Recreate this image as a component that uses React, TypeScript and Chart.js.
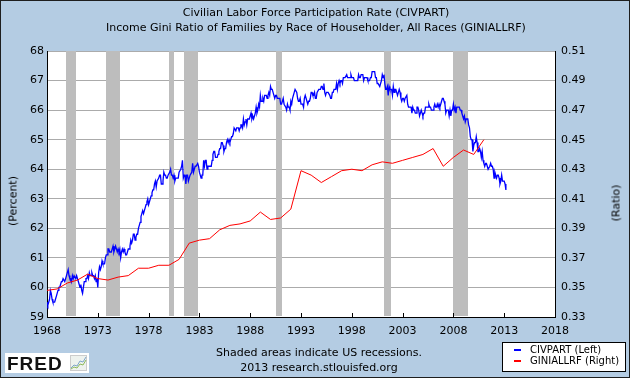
import React, { useEffect, useRef } from "react";
import { Chart, registerables } from "chart.js";

Chart.register(...registerables);

// ---------------- DATA ----------------
const civpartStartYear = 1968;
const civpart1968to1979 = [
  59.5, 59.4, 59.5, 59.6, 59.9, 59.8, 59.6, 59.5, 59.5, 59.5, 59.6, 59.7,
  59.8, 59.9, 60.0, 60.0, 60.1, 60.2, 60.2, 60.3, 60.3, 60.2, 60.3, 60.4,
  60.5, 60.6, 60.4, 60.3, 60.3, 60.2, 60.4, 60.3, 60.4, 60.4, 60.3, 60.4,
  60.3, 60.2, 60.1, 60.0, 60.1, 59.9, 59.8, 60.0, 60.2, 60.2, 60.3, 60.3,
  60.4, 60.3, 60.5, 60.4, 60.4, 60.5, 60.4, 60.4, 60.3, 60.4, 60.2, 60.3,
  60.0, 60.5, 60.7, 60.6, 60.7, 60.9, 60.8, 60.8, 60.8, 61.0, 61.1, 61.1,
  61.3, 61.3, 61.2, 61.2, 61.2, 61.3, 61.4, 61.2, 61.3, 61.4, 61.3, 61.2,
  61.3, 61.2, 61.3, 61.0, 61.2, 61.3, 61.2, 61.3, 61.2, 61.1, 61.1, 61.2,
  61.3, 61.3, 61.4, 61.6, 61.5, 61.6, 61.8, 61.8, 61.6, 61.7, 61.8, 61.8,
  62.0, 62.1, 62.2, 62.4, 62.5, 62.6, 62.5, 62.6, 62.7, 62.8, 62.9, 63.0,
  62.8, 62.9, 63.0, 63.1, 63.2, 63.3, 63.3, 63.5, 63.6, 63.4, 63.6, 63.6,
  63.7, 63.8, 63.8, 63.5, 63.5, 63.6, 63.9, 63.8, 63.8, 63.7, 63.7, 63.8,
];
const civpart1980to1989 = [
  63.8, 63.9, 64.0, 63.8, 63.8, 63.7, 63.8, 63.6, 63.7, 63.7, 63.7, 63.7,
  63.9, 63.9, 64.0, 64.1, 64.3, 63.7, 63.8, 63.8, 63.5, 63.8, 63.8, 63.6,
  63.7, 63.8, 63.8, 63.9, 64.2, 63.9, 64.0, 64.1, 64.1, 64.1, 64.2, 64.1,
  63.9, 63.8, 63.7, 63.8, 63.8, 64.3, 64.1, 64.3, 64.3, 64.0, 64.1, 64.1,
  64.1, 64.1, 64.1, 64.3, 64.5, 64.6, 64.6, 64.4, 64.4, 64.4, 64.5, 64.6,
  64.7, 64.7, 64.9, 64.9, 64.8, 64.6, 64.7, 64.7, 64.9, 65.0, 64.9, 65.0,
  64.9, 65.0, 65.1, 65.1, 65.2, 65.4, 65.4, 65.3, 65.4, 65.4, 65.4, 65.3,
  65.4, 65.5, 65.5, 65.4, 65.7, 65.5, 65.6, 65.7, 65.5, 65.7, 65.7, 65.7,
  65.8, 65.9, 65.7, 65.8, 65.7, 65.8, 65.9, 66.1, 65.9, 66.0, 66.2, 66.1,
  66.5, 66.3, 66.3, 66.4, 66.3, 66.5, 66.5, 66.5, 66.4, 66.5, 66.6, 66.5,
];
const civpart1990to1999 = [
  66.8, 66.7, 66.7, 66.6, 66.6, 66.4, 66.5, 66.5, 66.4, 66.4, 66.4, 66.4,
  66.2, 66.2, 66.3, 66.4, 66.2, 66.2, 66.1, 66.0, 66.2, 66.1, 66.1, 66.0,
  66.3, 66.2, 66.4, 66.5, 66.6, 66.7, 66.7, 66.6, 66.4, 66.3, 66.3, 66.4,
  66.2, 66.2, 66.2, 66.1, 66.4, 66.5, 66.4, 66.4, 66.2, 66.3, 66.3, 66.4,
  66.6, 66.6, 66.5, 66.5, 66.6, 66.4, 66.4, 66.6, 66.6, 66.7, 66.7, 66.7,
  66.8, 66.8, 66.7, 66.9, 66.6, 66.5, 66.6, 66.6, 66.6, 66.6, 66.5, 66.4,
  66.4, 66.6, 66.6, 66.7, 66.7, 66.7, 66.9, 66.7, 66.9, 67.0, 66.9, 67.0,
  67.0, 66.9, 67.1, 67.1, 67.1, 67.1, 67.2, 67.1, 67.1, 67.1, 67.1, 67.2,
  67.1, 67.1, 67.1, 67.0, 67.0, 67.0, 67.0, 67.0, 67.2, 67.1, 67.1, 67.2,
  67.2, 67.2, 67.0, 67.1, 67.1, 67.1, 67.1, 67.0, 67.0, 67.0, 67.1, 67.1,
];
const civpart2000to2013 = [
  67.3, 67.3, 67.3, 67.3, 67.1, 67.1, 66.9, 66.9, 66.9, 66.8, 66.9, 67.0,
  67.2, 67.1, 67.2, 66.9, 66.7, 66.7, 66.8, 66.5, 66.8, 66.7, 66.7, 66.7,
  66.5, 66.8, 66.6, 66.7, 66.7, 66.6, 66.5, 66.6, 66.7, 66.6, 66.4, 66.3,
  66.4, 66.4, 66.3, 66.4, 66.4, 66.5, 66.2, 66.1, 66.1, 66.1, 66.1, 65.9,
  66.1, 66.0, 66.0, 65.9, 65.9, 66.1, 66.1, 66.0, 65.8, 65.9, 66.0, 65.9,
  65.8, 65.9, 65.9, 66.1, 66.1, 66.1, 66.1, 66.2, 66.1, 66.1, 66.0, 66.0,
  66.0, 66.1, 66.2, 66.1, 66.1, 66.2, 66.1, 66.2, 66.1, 66.2, 66.3, 66.4,
  66.4, 66.3, 66.2, 65.9, 66.0, 66.0, 66.0, 65.8, 66.0, 65.8, 66.0, 66.0,
  66.2, 66.0, 66.1, 65.9, 66.1, 66.1, 66.1, 66.1, 66.0, 66.0, 65.9, 65.8,
  65.7, 65.8, 65.6, 65.7, 65.7, 65.7, 65.5, 65.4, 65.1, 65.0, 65.0, 64.6,
  64.8, 64.9, 64.9, 65.1, 64.9, 64.6, 64.6, 64.7, 64.6, 64.4, 64.6, 64.3,
  64.2, 64.1, 64.2, 64.2, 64.1, 64.0, 64.0, 64.1, 64.2, 64.1, 64.1, 64.0,
  63.7, 63.9, 63.8, 63.7, 63.8, 63.8, 63.7, 63.5, 63.6, 63.8, 63.6, 63.6,
  63.6, 63.5, 63.3,
];

const giniStartYear = 1968;
const giniValues = [
  0.348, 0.349, 0.353, 0.355, 0.359, 0.356, 0.355, 0.357, 0.358, 0.363, 0.363, 0.365,
  0.365, 0.369, 0.380, 0.382, 0.383, 0.389, 0.392, 0.393, 0.395, 0.401,
  0.396, 0.397, 0.403, 0.429, 0.426, 0.421, 0.425, 0.429, 0.430, 0.429,
  0.433, 0.435, 0.434, 0.436, 0.438, 0.440, 0.444, 0.432, 0.438, 0.443, 0.440, 0.450,
];

const recessionStart = ["1969-12", "1973-11", "1980-01", "1981-07", "1990-07", "2001-03", "2007-12"];
const recessionEnd = ["1970-11", "1975-03", "1980-07", "1982-11", "1991-03", "2001-11", "2009-06"];

const xTickValues = [1968, 1973, 1978, 1983, 1988, 1993, 1998, 2003, 2008, 2013, 2018];
const leftTickValues = [59, 60, 61, 62, 63, 64, 65, 66, 67, 68];
const rightTickValues = [0.33, 0.35, 0.37, 0.39, 0.41, 0.43, 0.45, 0.47, 0.49, 0.51];

// ---------------- STYLE ----------------
const BG = "#B4CCE3";
const FONT = "'DejaVu Sans', Verdana, sans-serif";
const GRID = "#ABABAB";
const SHADE = "#BDBDBD";

const monthToYear = (s: string) => {
  const [y, m] = s.split("-").map(Number);
  return y + (m - 1) / 12;
};

const plotPlugin = {
  id: "fredDecor",
  beforeDraw(chart: any) {
    const { ctx, chartArea } = chart;
    ctx.save();
    ctx.fillStyle = "#FFFFFF";
    ctx.fillRect(chartArea.left, chartArea.top, chartArea.right - chartArea.left, chartArea.bottom - chartArea.top);
    ctx.restore();
  },
  beforeDatasetsDraw(chart: any) {
    const { ctx, chartArea, scales } = chart;
    const xs = scales.x;
    ctx.save();
    ctx.fillStyle = SHADE;
    recessionStart.forEach((s, i) => {
      const x0 = xs.getPixelForValue(monthToYear(s));
      const x1 = xs.getPixelForValue(monthToYear(recessionEnd[i]));
      ctx.fillRect(Math.round(x0), chartArea.top, Math.round(x1) - Math.round(x0), chartArea.bottom - chartArea.top - 1);
    });
    ctx.restore();
  },
  afterDatasetsDraw(chart: any) {
    const { ctx, chartArea, scales } = chart;
    const xs = scales.x;
    ctx.save();
    ctx.strokeStyle = "#000";
    ctx.lineWidth = 1;
    xTickValues.forEach((v) => {
      const px = Math.round(xs.getPixelForValue(v)) + 0.5;
      ctx.beginPath();
      ctx.moveTo(px, chartArea.bottom);
      ctx.lineTo(px, chartArea.bottom - 4);
      ctx.stroke();
    });
    ctx.restore();
  },
};

export default function App() {
  const ref = useRef<HTMLCanvasElement>(null);

  useEffect(() => {
    const civpart = [...civpart1968to1979, ...civpart1980to1989, ...civpart1990to1999, ...civpart2000to2013];
    const civData = civpart.map((v, i) => ({ x: civpartStartYear + i / 12, y: v }));
    const giniData = giniValues.map((v, i) => ({ x: giniStartYear + i, y: v }));
    const tickFont = { family: FONT, size: 11 };

    const chart = new Chart(ref.current as HTMLCanvasElement, {
      type: "line",
      data: {
        datasets: [
          {
            label: "CIVPART (Left)",
            data: civData,
            borderColor: "#0000FF",
            borderWidth: 1.3,
            pointRadius: 0,
            tension: 0,
            yAxisID: "y",
            order: 1,
          },
          {
            label: "GINIALLRF (Right)",
            data: giniData,
            borderColor: "#FF0000",
            borderWidth: 1,
            pointRadius: 0,
            tension: 0,
            yAxisID: "y1",
            order: 0,
          },
        ],
      },
      options: {
        responsive: false,
        maintainAspectRatio: false,
        animation: false,
        events: [],
        layout: { padding: { top: 51, left: 0, right: 0, bottom: 0 } },
        plugins: { legend: { display: false }, title: { display: false }, tooltip: { enabled: false } },
        scales: {
          x: {
            type: "linear",
            position: "bottom",
            min: 1968,
            max: 2018,
            afterBuildTicks: (s: any) => {
              s.ticks = xTickValues.map((v) => ({ value: v }));
            },
            afterFit: (s: any) => {
              s.height = 61;
            },
            ticks: {
              font: tickFont,
              color: "#000",
              padding: 8,
              maxRotation: 0,
              autoSkip: false,
              callback: (v: any) => String(v),
            },
            grid: { drawOnChartArea: false, drawTicks: false },
            border: { display: true, color: "#000", width: 1 },
          },
          y: {
            type: "linear",
            position: "left",
            min: 59,
            max: 68,
            afterBuildTicks: (s: any) => {
              s.ticks = leftTickValues.map((v) => ({ value: v }));
            },
            afterFit: (s: any) => {
              s.width = 47;
            },
            ticks: { font: tickFont, color: "#000", padding: 3, callback: (v: any) => String(v) },
            grid: { color: GRID, lineWidth: 1, drawTicks: false },
            border: { display: true, color: "#000", width: 1 },
          },
          y1: {
            type: "linear",
            position: "right",
            min: 0.33,
            max: 0.51,
            afterBuildTicks: (s: any) => {
              s.ticks = rightTickValues.map((v) => ({ value: v }));
            },
            afterFit: (s: any) => {
              s.width = 75;
            },
            ticks: { font: tickFont, color: "#000", padding: 6, callback: (v: any) => Number(v).toFixed(2) },
            grid: { drawOnChartArea: false, drawTicks: false },
            border: { display: true, color: "#000", width: 1 },
          },
        },
      },
      plugins: [plotPlugin],
    } as any);

    return () => chart.destroy();
  }, []);

  const abs: React.CSSProperties = { position: "absolute" };

  return (
    <div
      style={{
        position: "absolute",
        left: 0,
        top: 0,
        width: 630,
        height: 378,
        background: BG,
        overflow: "hidden",
        fontFamily: FONT,
        color: "#000",
      }}
    >
      <canvas ref={ref} width={630} height={378} style={{ ...abs, left: 0, top: 0, width: 630, height: 378 }} />

      <div style={{ ...abs, left: 1, top: 5, width: 630, textAlign: "center", fontSize: 11, lineHeight: "15px" }}>
        <div>Civilian Labor Force Participation Rate (CIVPART)</div>
        <div>Income Gini Ratio of Families by Race of Householder, All Races (GINIALLRF)</div>
      </div>

      <div
        style={{
          ...abs,
          left: 13,
          top: 201,
          transform: "translate(-50%, -50%) rotate(-90deg)",
          fontSize: 11,
          lineHeight: "11px",
          whiteSpace: "nowrap",
        }}
      >
        (Percent)
      </div>
      <div
        style={{
          ...abs,
          left: 616,
          top: 203,
          transform: "translate(-50%, -50%) rotate(-90deg)",
          fontSize: 11,
          lineHeight: "11px",
          whiteSpace: "nowrap",
        }}
      >
        (Ratio)
      </div>

      <div style={{ ...abs, left: 4, top: 345, width: 630, textAlign: "center", fontSize: 11, lineHeight: "15px" }}>
        <div>Shaded areas indicate US recessions.</div>
        <div>2013 research.stlouisfed.org</div>
      </div>

      <div
        style={{
          ...abs,
          left: 5,
          top: 353,
          width: 84,
          height: 20,
          background: "#FFFFFF",
        }}
      >
        <div
          style={{
            ...abs,
            left: 2,
            top: 1,
            fontFamily: "'Liberation Sans', Arial, sans-serif",
            fontWeight: 900,
            fontSize: 19,
            lineHeight: "19px",
            letterSpacing: 1,
            color: "#111",
          }}
        >
          FRED
        </div>
        <svg style={{ position: "absolute", left: 65, top: 2 }} width={17} height={16} viewBox="0 0 17 16">
          <rect x={0.5} y={0.5} width={16} height={15} fill="#EEF2EE" stroke="#CCCCCC" />
          <polyline points="1,13 4,10 7,11 10,6 13,7 16,2" fill="none" stroke="#7FA7C9" strokeWidth={1} />
          <polyline points="1,14 4,12 7,13 10,9 13,10 16,5" fill="none" stroke="#8DBA5A" strokeWidth={1} />
        </svg>
      </div>

      <div
        style={{
          ...abs,
          left: 502,
          top: 342,
          width: 124,
          height: 30,
          boxSizing: "border-box",
          border: "1px solid #000",
          background: "#FFFFFF",
          fontSize: 10,
        }}
      >
        <div style={{ ...abs, left: 11, top: 6, width: 7, height: 2, background: "#0000FF" }} />
        <div style={{ ...abs, left: 27, top: 1, lineHeight: "12px", whiteSpace: "nowrap" }}>CIVPART (Left)</div>
        <div style={{ ...abs, left: 11, top: 17, width: 7, height: 2, background: "#FF0000" }} />
        <div style={{ ...abs, left: 27, top: 12, lineHeight: "12px", whiteSpace: "nowrap" }}>GINIALLRF (Right)</div>
      </div>

      <div
        style={{
          ...abs,
          left: 0,
          top: 0,
          width: 630,
          height: 378,
          boxSizing: "border-box",
          border: "1px solid #1E1E1E",
          pointerEvents: "none",
        }}
      />
    </div>
  );
}
